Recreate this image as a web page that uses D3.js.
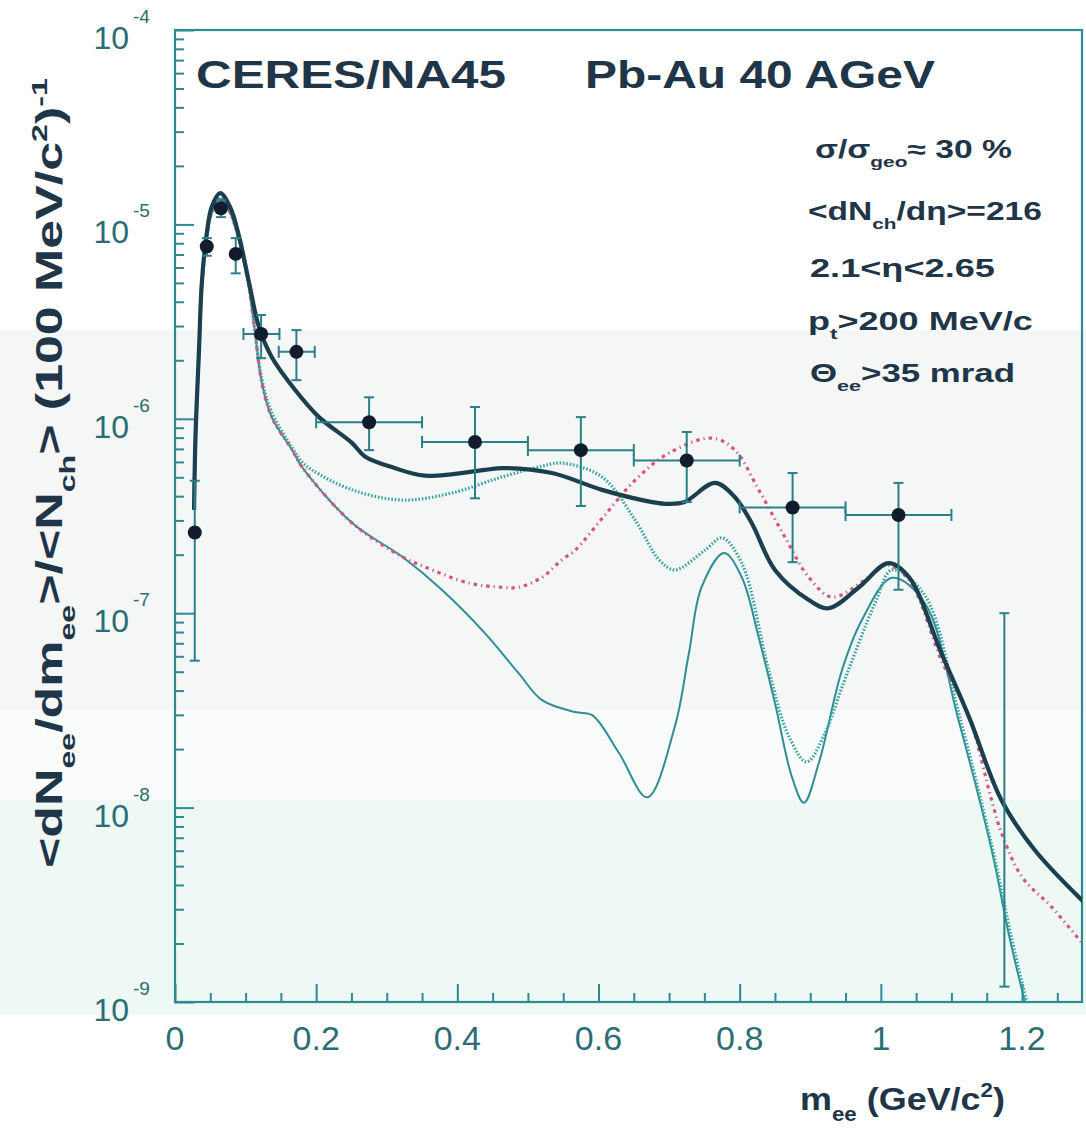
<!DOCTYPE html>
<html>
<head>
<meta charset="utf-8">
<script src="https://cdn.jsdelivr.net/npm/d3@7"></script>
<style>
body { margin: 0; background: #fff; }
svg { display: block; }
</style>
</head>
<body>
<svg id="chart" width="1086" height="1128"></svg>
<script>
// ---- data (m_ee in GeV/c^2, yield per 100 MeV/c^2) ----
var ptM    = [0.028, 0.045, 0.065, 0.086, 0.122, 0.172, 0.275, 0.425, 0.575, 0.725, 0.875, 1.025, 1.175];
var ptV    = [2.6e-7, 7.7e-6, 1.21e-5, 7.05e-6, 2.73e-6, 2.21e-6, 9.6e-7, 7.6e-7, 6.9e-7, 6.1e-7, 3.5e-7, 3.2e-7, null]; // last one below the axis
var ptLo   = [5.7e-8, 6.9e-6, 1.09e-5, 5.6e-6, 2.05e-6, 1.58e-6, 6.9e-7, 3.9e-7, 3.56e-7, 3.73e-7, 1.83e-7, 1.32e-7, 1.2e-9];
var ptHi   = [4.8e-7, 8.5e-6, 1.33e-5, 8.5e-6, 3.42e-6, 2.86e-6, 1.29e-6, 1.15e-6, 1.02e-6, 8.55e-7, 5.26e-7, 4.68e-7, 1.0e-7];
var ptMLo  = [null, null, null, null, 0.097, 0.147, 0.2, 0.35, 0.5, 0.65, 0.8, 0.95, null];
var ptMHi  = [null, null, null, null, 0.148, 0.198, 0.35, 0.5, 0.65, 0.8, 0.95, 1.1, null];

// thick solid curve
var thickM = [0.027, 0.029, 0.034, 0.038, 0.045, 0.052, 0.064, 0.078, 0.091, 0.105, 0.119, 0.137, 0.170, 0.204, 0.251, 0.269, 0.31, 0.354, 0.439, 0.463, 0.534, 0.605, 0.676, 0.70, 0.722, 0.765, 0.793, 0.817, 0.850, 0.898, 0.926, 0.969, 1.011, 1.040, 1.086, 1.125, 1.171, 1.218, 1.289];
var thickV = [3.4e-7, 8e-7, 2.26e-6, 5.0e-6, 9.0e-6, 1.23e-5, 1.45e-5, 1.23e-5, 8.6e-6, 5.0e-6, 2.96e-6, 2.08e-6, 1.41e-6, 1.02e-6, 7.5e-7, 6.4e-7, 5.6e-7, 5.1e-7, 5.46e-7, 5.58e-7, 5.26e-7, 4.31e-7, 3.73e-7, 3.65e-7, 3.73e-7, 4.68e-7, 3.96e-7, 2.91e-7, 1.67e-7, 1.17e-7, 1.06e-7, 1.36e-7, 1.81e-7, 1.53e-7, 6.2e-8, 2.92e-8, 1.09e-8, 6.05e-9, 3.23e-9];

// thin solid curve
var thinM = [0.027, 0.029, 0.034, 0.038, 0.045, 0.052, 0.064, 0.078, 0.091, 0.105, 0.113, 0.123, 0.137, 0.166, 0.180, 0.251, 0.322, 0.378, 0.439, 0.487, 0.520, 0.567, 0.591, 0.629, 0.669, 0.708, 0.728, 0.746, 0.778, 0.803, 0.827, 0.850, 0.874, 0.891, 0.912, 0.945, 0.973, 1.016, 1.062, 1.110, 1.157, 1.181, 1.200, 1.215];
var thinV = [3.4e-7, 8e-7, 2.2e-6, 4.8e-6, 8.6e-6, 1.15e-5, 1.36e-5, 1.15e-5, 8.2e-6, 4.7e-6, 2.86e-6, 1.53e-6, 1.02e-6, 6.9e-7, 5.65e-7, 2.91e-7, 1.95e-7, 1.32e-7, 7.9e-8, 4.9e-8, 3.57e-8, 3.1e-8, 2.99e-8, 1.91e-8, 1.13e-8, 2.6e-8, 6.2e-8, 1.36e-7, 2.04e-7, 1.53e-7, 7.5e-8, 3.45e-8, 1.44e-8, 1.06e-8, 1.69e-8, 5.1e-8, 9.2e-8, 1.52e-7, 1.13e-7, 2.82e-8, 6.05e-9, 2.26e-9, 1.15e-9, 7e-10];

// teal dotted curve
var dotM = [0.027, 0.029, 0.034, 0.038, 0.045, 0.052, 0.064, 0.078, 0.091, 0.105, 0.113, 0.123, 0.137, 0.166, 0.180, 0.194, 0.251, 0.322, 0.392, 0.463, 0.520, 0.548, 0.605, 0.652, 0.686, 0.708, 0.751, 0.775, 0.803, 0.841, 0.870, 0.895, 0.921, 0.945, 0.992, 1.016, 1.062, 1.110, 1.157, 1.186, 1.207, 1.22];
var dotV = [3.4e-7, 8e-7, 2.2e-6, 4.8e-6, 8.6e-6, 1.15e-5, 1.36e-5, 1.15e-5, 8.2e-6, 4.7e-6, 2.86e-6, 1.6e-6, 1.08e-6, 7.1e-7, 6.0e-7, 5.46e-7, 4.31e-7, 3.82e-7, 4.15e-7, 5.02e-7, 5.71e-7, 5.92e-7, 5.02e-7, 3.01e-7, 1.88e-7, 1.67e-7, 2.11e-7, 2.44e-7, 1.81e-7, 5.1e-8, 2.31e-8, 1.72e-8, 2.42e-8, 4.17e-8, 1.13e-7, 1.67e-7, 1.24e-7, 3.1e-8, 6.4e-9, 2.08e-9, 1.0e-9, 7e-10];

// pink dash-dot curve
var pinkM = [0.027, 0.029, 0.034, 0.038, 0.045, 0.052, 0.064, 0.078, 0.091, 0.105, 0.113, 0.123, 0.137, 0.166, 0.180, 0.251, 0.322, 0.354, 0.416, 0.463, 0.487, 0.520, 0.548, 0.567, 0.606, 0.652, 0.700, 0.761, 0.793, 0.827, 0.864, 0.898, 0.931, 0.977, 1.008, 1.040, 1.086, 1.125, 1.157, 1.171, 1.200, 1.242, 1.285];
var pinkV = [3.4e-7, 8e-7, 2.2e-6, 4.8e-6, 8.6e-6, 1.15e-5, 1.36e-5, 1.15e-5, 8.2e-6, 4.7e-6, 2.86e-6, 1.53e-6, 1.02e-6, 6.9e-7, 5.65e-7, 2.91e-7, 1.95e-7, 1.73e-7, 1.43e-7, 1.36e-7, 1.36e-7, 1.53e-7, 1.88e-7, 2.11e-7, 3.1e-7, 4.84e-7, 6.67e-7, 7.96e-7, 6.92e-7, 4.31e-7, 2.47e-7, 1.53e-7, 1.21e-7, 1.48e-7, 1.77e-7, 1.48e-7, 5.7e-8, 2.92e-8, 1.09e-8, 7.4e-9, 4.4e-9, 3.08e-9, 2.01e-9];

var xMajorTicks = [0, 0.2, 0.4, 0.6, 0.8, 1, 1.2];
var xTickLabels = ["0", "0.2", "0.4", "0.6", "0.8", "1", "1.2"];
var yDecades    = [-4, -5, -6, -7, -8, -9];

// ---- layout ----
var svg = d3.select("#chart");
var x = d3.scaleLinear().domain([0, 1.285]).range([175, 1082]);
var y = d3.scaleLog().domain([1e-9, 1e-4]).range([1002, 30]);

var frameCol = "#2c8a91", labelCol = "#2a6d74", titleCol = "#1f3548";
var FONT = "'Liberation Sans', Arial, Helvetica, sans-serif";

// faint scan tint bands
svg.append("rect").attr("x", 0).attr("y", 330).attr("width", 1086).attr("height", 380).attr("fill", "#f5f6f6");
svg.append("rect").attr("x", 0).attr("y", 710).attr("width", 1086).attr("height", 90).attr("fill", "#fafbfb");
svg.append("rect").attr("x", 0).attr("y", 800).attr("width", 1086).attr("height", 215).attr("fill", "#eef8f5");

svg.append("defs").append("clipPath").attr("id", "plotclip")
    .append("rect").attr("x", 175).attr("y", 30).attr("width", 907).attr("height", 972);

// axes ticks (inward)
var xMinor = d3.range(0.05, 1.2501, 0.05).filter(function (v) { return Math.abs(v / 0.2 - Math.round(v / 0.2)) > 1e-6; });
var yMinor = [];
[-9, -8, -7, -6, -5].forEach(function (d) {
    for (var k = 2; k <= 9; k++) yMinor.push(k * Math.pow(10, d));
});

var gx = svg.append("g").attr("transform", "translate(0,1002)")
    .call(d3.axisBottom(x).tickValues(xMajorTicks).tickSize(-18).tickFormat(""));
var gx2 = svg.append("g").attr("transform", "translate(0,1002)")
    .call(d3.axisBottom(x).tickValues(xMinor).tickSize(-9).tickFormat(""));
var gy = svg.append("g").attr("transform", "translate(175,0)")
    .call(d3.axisLeft(y).tickValues(yDecades.map(function (d) { return Math.pow(10, d); })).tickSize(-19).tickFormat(""));
var gy2 = svg.append("g").attr("transform", "translate(175,0)")
    .call(d3.axisLeft(y).tickValues(yMinor).tickSize(-9).tickFormat(""));
[gx, gx2, gy, gy2].forEach(function (g) {
    g.select(".domain").remove();
    g.selectAll("line").attr("stroke", frameCol).attr("stroke-width", 2);
});

// frame
svg.append("rect").attr("x", 175).attr("y", 30).attr("width", 907).attr("height", 972)
    .attr("fill", "none").attr("stroke", frameCol).attr("stroke-width", 2.2);

// x tick labels
svg.append("g").selectAll("text").data(xMajorTicks).enter().append("text")
    .attr("x", function (d) { return x(d); })
    .attr("y", 1050)
    .attr("text-anchor", "middle")
    .attr("font-family", FONT).attr("font-size", 34).attr("fill", labelCol)
    .text(function (d, i) { return xTickLabels[i]; });

// y tick labels 10^n
var yl = svg.append("g").selectAll("g").data(yDecades).enter().append("g");
yl.append("text")
    .attr("x", 129).attr("y", function (d) { return y(Math.pow(10, d)) + 19; })
    .attr("text-anchor", "end")
    .attr("font-family", FONT).attr("font-size", 32).attr("fill", labelCol)
    .text("10");
yl.append("text")
    .attr("x", 133).attr("y", function (d) { return y(Math.pow(10, d)) - 7; })
    .attr("font-family", FONT).attr("font-size", 19).attr("fill", labelCol)
    .text(function (d) { return String(d); });

// ---- curves ----
function pairs(ms, vs) { return ms.map(function (m, i) { return [m, vs[i]]; }); }
var line = d3.line()
    .x(function (d) { return x(d[0]); })
    .y(function (d) { return y(d[1]); })
    .curve(d3.curveCatmullRom.alpha(0.5));

var plot = svg.append("g").attr("clip-path", "url(#plotclip)");

plot.append("path").datum(pairs(thinM, thinV)).attr("d", line)
    .attr("fill", "none").attr("stroke", "#2d8f95").attr("stroke-width", 2);
plot.append("path").datum(pairs(dotM, dotV)).attr("d", line)
    .attr("fill", "none").attr("stroke", "#3da3a3").attr("stroke-width", 3.2)
    .attr("stroke-dasharray", "1.6,1.8");
plot.append("path").datum(pairs(pinkM, pinkV)).attr("d", line)
    .attr("fill", "none").attr("stroke", "#d4557f").attr("stroke-width", 3.2)
    .attr("stroke-dasharray", "3.5,4,1.2,4");
plot.append("path").datum(pairs(thickM, thickV)).attr("d", line)
    .attr("fill", "none").attr("stroke", "#1b3f4c").attr("stroke-width", 4.2);

// ---- data points with error bars ----
var errCol = "#2b7f87";
var eb = plot.append("g").attr("stroke", errCol).attr("stroke-width", 2);
ptM.forEach(function (m, i) {
    var px = x(m);
    var yl0 = y(ptLo[i]), yh0 = y(ptHi[i]);
    eb.append("line").attr("x1", px).attr("x2", px).attr("y1", yl0).attr("y2", yh0);
    eb.append("line").attr("x1", px - 5).attr("x2", px + 5).attr("y1", yl0).attr("y2", yl0);
    eb.append("line").attr("x1", px - 5).attr("x2", px + 5).attr("y1", yh0).attr("y2", yh0);
    if (ptMLo[i] != null && ptV[i] != null) {
        var py = y(ptV[i]), xa = x(ptMLo[i]), xb = x(ptMHi[i]);
        eb.append("line").attr("x1", xa).attr("x2", xb).attr("y1", py).attr("y2", py);
        eb.append("line").attr("x1", xa).attr("x2", xa).attr("y1", py - 6).attr("y2", py + 6);
        eb.append("line").attr("x1", xb).attr("x2", xb).attr("y1", py - 6).attr("y2", py + 6);
    }
});
plot.append("g").selectAll("circle")
    .data(ptM.map(function (m, i) { return [m, ptV[i]]; }).filter(function (d) { return d[1] != null; }))
    .enter().append("circle")
    .attr("cx", function (d) { return x(d[0]); })
    .attr("cy", function (d) { return y(d[1]); })
    .attr("r", 7)
    .attr("fill", "#121c2c");

// ---- texts (stretched to the scanned widths) ----
function richText(parts, o) {
    var t = svg.append("text")
        .attr("font-family", FONT).attr("font-weight", "bold")
        .attr("font-size", o.size).attr("fill", o.color || titleCol);
    var shift = 0;
    parts.forEach(function (p) {
        var s = t.append("tspan").text(p[0]);
        var want = 0, fs = o.size;
        if (p[1] === "sub") { want = o.size * 0.35; fs = o.size * 0.62; }
        if (p[1] === "sup") { want = -o.size * 0.42; fs = o.size * 0.62; }
        s.attr("font-size", fs).attr("dy", want - shift);
        shift = want;
    });
    var w = t.node().getComputedTextLength();
    var sx = o.width / w;
    t.attr("transform", "translate(" + o.x + "," + o.y + ")" + (o.rotate ? " rotate(-90)" : "") + " scale(" + sx + ",1)");
    return t;
}

richText([["CERES/NA45"]], { x: 196, y: 88, size: 38, width: 310 });
richText([["Pb-Au 40 AGeV"]], { x: 585, y: 88, size: 38, width: 350 });

richText([["σ/σ"], ["geo", "sub"], ["≈ 30 %"]], { x: 815, y: 158, size: 25, width: 197 });
richText([["<dN"], ["ch", "sub"], ["/dη>=216"]], { x: 808, y: 220, size: 25, width: 234 });
richText([["2.1<η<2.65"]], { x: 810, y: 277, size: 25, width: 185 });
richText([["p"], ["t", "sub"], [">200 MeV/c"]], { x: 808, y: 330, size: 25, width: 225 });
richText([["Θ"], ["ee", "sub"], [">35 mrad"]], { x: 810, y: 382, size: 25, width: 205 });

richText([["m"], ["ee", "sub"], [" (GeV/c"], ["2", "sup"], [")"]], { x: 800, y: 1110, size: 32, width: 205 });

richText([["<dN"], ["ee", "sub"], ["/dm"], ["ee", "sub"], [">/<N"], ["ch", "sub"], ["> (100 MeV/c"], ["2", "sup"], [")"], ["-1", "sup"]],
    { x: 62, y: 868, size: 36, width: 790, rotate: true });
</script>
</body>
</html>
